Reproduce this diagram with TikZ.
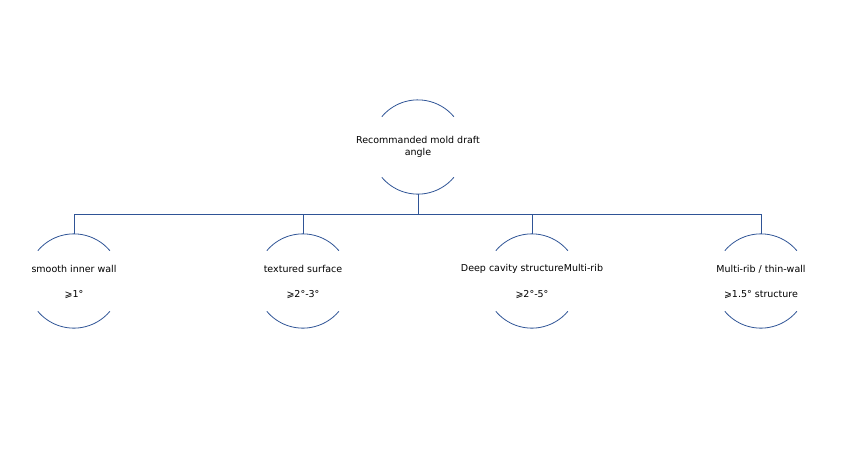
\documentclass[tikz,border=0pt]{standalone}
\usepackage{fontspec}
\setmainfont{DejaVu Sans}
\begin{document}
\begin{tikzpicture}[x=1pt,y=-1pt,
  arcs/.style={draw=blue!50!black!80, line width=0.8pt},
  ring/.style={circle, minimum size=94pt, inner sep=0pt},
  lbl/.style={font=\fontsize{9.5}{12}\selectfont, align=center}]
\definecolor{ln}{RGB}{47,84,150}
\useasboundingbox (0,0) rectangle (844,456);
\tikzset{arcs/.style={draw=ln, line width=0.8pt}}
\node[ring] (r) at (418,147) {};
\node[ring] (a) at (74,281) {};
\node[ring] (b) at (303,281) {};
\node[ring] (c) at (532,281) {};
\node[ring] (d) at (761,281) {};
\foreach \n in {r,a,b,c,d}{
  \draw[arcs] (\n.140) arc[start angle=140,end angle=40,radius=47pt];
  \draw[arcs] (\n.220) arc[start angle=220,end angle=320,radius=47pt];
}
\node[lbl] (rt) at (418,147) {Recommanded mold draft\\angle};
\node[lbl] at (74,269) {smooth inner wall};
\node[lbl] at (74,295) {⩾1°};
\node[lbl] at (303,269) {textured surface};
\node[lbl] at (303,295) {⩾2°-3°};
\node[lbl] at (532,269) {Deep cavity structureMulti-rib};
\node[lbl] at (532,295) {⩾2°-5°};
\node[lbl] at (761,269) {Multi-rib / thin-wall};
\node[lbl] at (761,295) {⩾1.5° structure};
\coordinate (bus) at (418,214);
\draw[arcs] (r.south) -- (bus);
\draw[arcs] (a.north) |- (bus);
\draw[arcs] (b.north) |- (bus);
\draw[arcs] (c.north) |- (bus);
\draw[arcs] (d.north) |- (bus);
\end{tikzpicture}
\end{document}
